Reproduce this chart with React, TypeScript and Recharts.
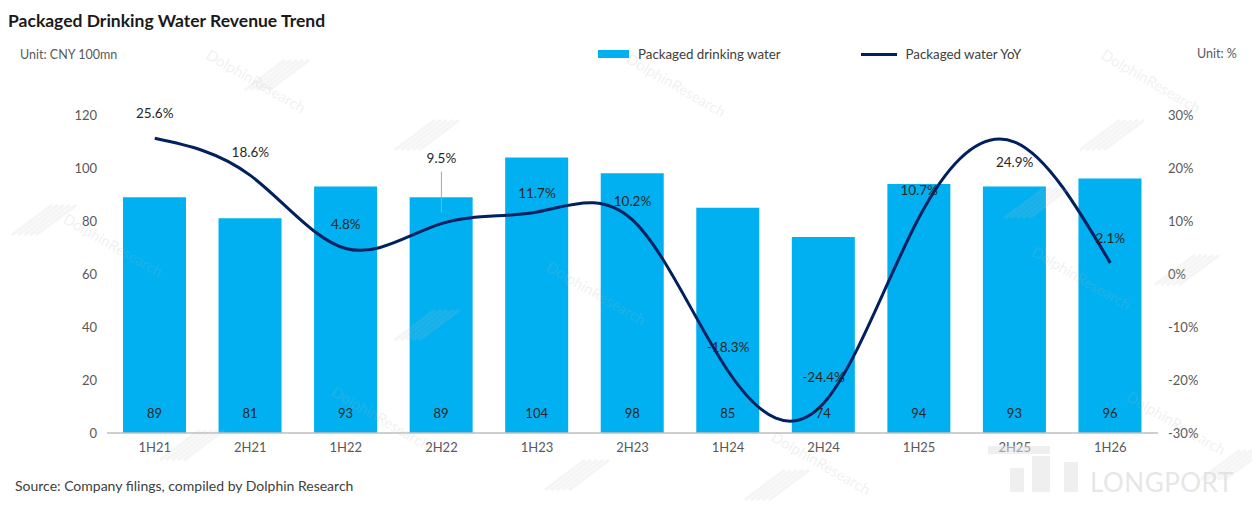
import React from "react";
import { ComposedChart, Bar, Line, XAxis, YAxis, Legend, LabelList } from "recharts";

const periods = ["1H21", "2H21", "1H22", "2H22", "1H23", "2H23", "1H24", "2H24", "1H25", "2H25", "1H26"];
const revenue = [89, 81, 93, 89, 104, 98, 85, 74, 94, 93, 96];
const yoy = [25.6, 18.6, 4.8, 9.5, 11.7, 10.2, -18.3, -24.4, 10.7, 24.9, 2.1];
const leftTicks = [0, 20, 40, 60, 80, 100, 120];
const rightTicks = [-30, -20, -10, 0, 10, 20, 30];

// label placement for the YoY values (px from the point)
const yoyLabelDy = [-25, -23, -25, -66, -19, -19, -24, -26, -27, 20, -25];

const BAR_COLOR = "#00B0F0";
const LINE_COLOR = "#002060";
const FONT = "Lato, 'Open Sans', sans-serif";

const data = periods.map((p, i) => ({ period: p, revenue: revenue[i], yoy: yoy[i] }));

const BarValueLabel = (props: any) => {
  const { x, y, width, height, value } = props;
  return (
    <text
      x={Number(x) + Number(width) / 2}
      y={Number(y) + Number(height) - 20}
      textAnchor="middle"
      dominantBaseline="central"
      fontSize={13}
      fill="#262626"
      fontFamily={FONT}
    >
      {value}
    </text>
  );
};

const YoyLabel = (props: any) => {
  const { x, y, value, index } = props;
  const dy = yoyLabelDy[index] ?? -20;
  const ly = Number(y) + dy;
  return (
    <g>
      {index === 3 && (
        <line x1={x} y1={ly + 14} x2={x} y2={Number(y) - 11} stroke="#A6A6A6" strokeWidth={1} />
      )}
      <text
        x={x}
        y={ly}
        textAnchor="middle"
        dominantBaseline="central"
        fontSize={13.5}
        fill="#262626"
        fontFamily={FONT}
      >
        {`${value.toFixed(1)}%`}
      </text>
    </g>
  );
};

const LegendContent = () => (
  <div style={{ display: "flex", alignItems: "center", fontFamily: FONT, fontSize: 13.3, color: "#404040" }}>
    <span style={{ display: "inline-block", width: 31, height: 8, background: BAR_COLOR, marginRight: 9 }} />
    <span style={{ marginRight: 80 }}>Packaged drinking water</span>
    <span style={{ display: "inline-block", width: 36, height: 3, background: LINE_COLOR, marginRight: 9 }} />
    <span>Packaged water YoY</span>
  </div>
);

const watermarks = [
  [205, 58],
  [625, 62],
  [1100, 58],
  [62, 222],
  [545, 270],
  [1030, 255],
  [330, 395],
  [770, 440],
  [1125, 400],
];

const hatches = [
  [12, 205],
  [395, 120],
  [245, 60],
  [1155, 255],
  [395, 310],
  [1080, 120],
  [160, 430],
  [545, 460],
  [1005, 188],
  [1200, 450],
  [745, 470],
];

const Overlay = () => (
  <svg
    width={1252}
    height={510}
    style={{ position: "absolute", left: 0, top: 0, pointerEvents: "none" }}
  >
    {watermarks.map(([x, y], i) => (
      <text
        key={`wm-${i}`}
        x={x}
        y={y}
        transform={`rotate(30 ${x} ${y})`}
        fontSize={15}
        fontFamily={FONT}
        fill="rgba(180,180,180,0.2)"
      >
        DolphinResearch
      </text>
    ))}
    {hatches.map(([x, y], i) => (
      <g key={`h-${i}`} stroke="rgba(190,190,190,0.16)" strokeWidth={3}>
        {[0, 6, 12, 18, 24].map((o) => (
          <line key={o} x1={x + o} y1={y + 30} x2={x + o + 40} y2={y} />
        ))}
      </g>
    ))}
    <g fill="rgba(225,225,225,0.55)">
      <rect x={988} y={446} width={62} height={8} />
      <rect x={1032} y={456} width={18} height={36} />
      <rect x={1010} y={468} width={14} height={24} />
      <rect x={1064} y={462} width={14} height={30} />
    </g>
    <text x={1090} y={492} fontSize={26} fontFamily={FONT} fill="rgba(215,215,215,0.65)" letterSpacing={0.5}>
      LONGPORT
    </text>
  </svg>
);

export default function App() {
  return (
    <div style={{ position: "absolute", left: 0, top: 0, width: 1252, height: 510, background: "#fff", fontFamily: FONT }}>
      <div style={{ position: "absolute", left: 8, top: 10, fontSize: 17.5, fontWeight: 700, color: "#1a1a1a", lineHeight: "22px" }}>
        Packaged Drinking Water Revenue Trend
      </div>
      <div style={{ position: "absolute", left: 20, top: 47, fontSize: 12.5, color: "#595959", lineHeight: "16px" }}>
        Unit: CNY 100mn
      </div>
      <div style={{ position: "absolute", left: 1197, top: 46, fontSize: 12.5, color: "#595959", lineHeight: "16px" }}>
        Unit: %
      </div>
      <div style={{ position: "absolute", left: 15, top: 477, fontSize: 14, color: "#404040", lineHeight: "18px" }}>
        Source: Company filings, compiled by Dolphin Research
      </div>
      <ComposedChart
        width={1252}
        height={510}
        data={data}
        margin={{ top: 115, right: 34, bottom: 47, left: 47 }}
        style={{ position: "absolute", left: 0, top: 0 }}
      >
        <XAxis
          dataKey="period"
          height={30}
          tickLine={false}
          axisLine={{ stroke: "#BFBFBF", strokeWidth: 1.5 }}
          tickMargin={4}
          tick={{ fontSize: 13, fill: "#595959", fontFamily: FONT }}
          interval={0}
        />
        <YAxis
          yAxisId="left"
          orientation="left"
          width={60}
          domain={[0, 120]}
          ticks={leftTicks}
          tickLine={false}
          axisLine={false}
          tickMargin={4}
          tick={{ fontSize: 13, fill: "#595959", fontFamily: FONT }}
        />
        <YAxis
          yAxisId="right"
          orientation="right"
          width={60}
          domain={[-30, 30]}
          ticks={rightTicks}
          tickLine={false}
          axisLine={false}
          tickMargin={4}
          tickFormatter={(v) => `${v}%`}
          tick={{ fontSize: 13, fill: "#595959", fontFamily: FONT }}
        />
        <Legend
          layout="horizontal"
          verticalAlign="middle"
          align="center"
          content={<LegendContent />}
          wrapperStyle={{ position: "absolute", top: 46, left: 598, width: "auto", height: "auto" }}
        />
        <Bar
          yAxisId="left"
          dataKey="revenue"
          name="Packaged drinking water"
          fill={BAR_COLOR}
          barSize={63}
          isAnimationActive={false}
        >
          <LabelList dataKey="revenue" content={<BarValueLabel />} />
        </Bar>
        <Line
          yAxisId="right"
          dataKey="yoy"
          name="Packaged water YoY"
          type="natural"
          stroke={LINE_COLOR}
          strokeWidth={3}
          dot={false}
          activeDot={false}
          isAnimationActive={false}
        >
          <LabelList dataKey="yoy" content={<YoyLabel />} />
        </Line>
      </ComposedChart>
      <Overlay />
    </div>
  );
}
